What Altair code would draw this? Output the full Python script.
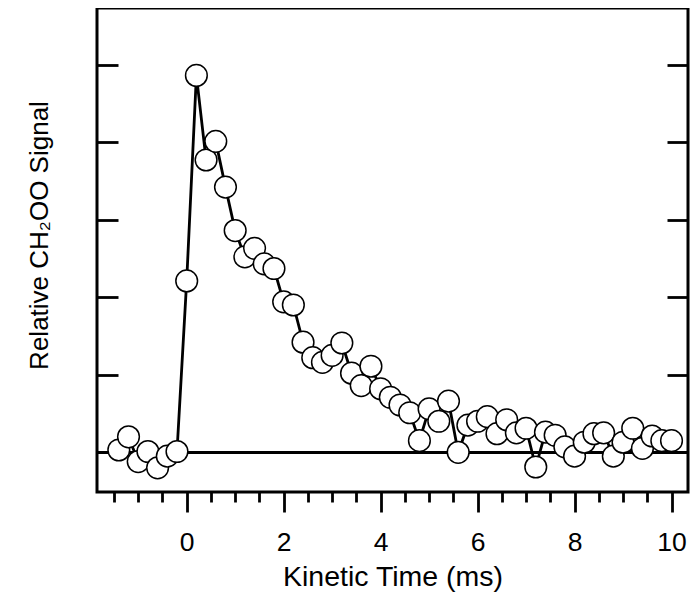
import altair as alt
import pandas as pd

# Data
time_ms = [-1.4, -1.2, -1.0, -0.8, -0.6, -0.4, -0.2, 0.0, 0.2, 0.4,
           0.6, 0.8, 1.0, 1.2, 1.4, 1.6, 1.8, 2.0, 2.2, 2.4,
           2.6, 2.8, 3.0, 3.2, 3.4, 3.6, 3.8, 4.0, 4.2, 4.4,
           4.6, 4.8, 5.0, 5.2, 5.4, 5.6, 5.8, 6.0, 6.2, 6.4,
           6.6, 6.8, 7.0, 7.2, 7.4, 7.6, 7.8, 8.0, 8.2, 8.4,
           8.6, 8.8, 9.0, 9.2, 9.4, 9.6, 9.8, 10.0]
signal = [0.03, 0.20, -0.12, 0.01, -0.20, -0.05, 0.01, 2.21, 4.86, 3.77,
          4.01, 3.42, 2.86, 2.52, 2.63, 2.43, 2.37, 1.94, 1.90, 1.42,
          1.22, 1.16, 1.25, 1.41, 1.02, 0.86, 1.11, 0.82, 0.71, 0.61,
          0.51, 0.15, 0.56, 0.40, 0.66, 0.00, 0.35, 0.40, 0.46, 0.24,
          0.42, 0.25, 0.31, -0.19, 0.26, 0.22, 0.07, -0.05, 0.13, 0.24,
          0.25, -0.05, 0.13, 0.31, 0.05, 0.21, 0.15, 0.15]
x_tick_values = [-1.5, -1.0, -0.5, 0.0, 0.5, 1.0, 1.5, 2.0, 2.5, 3.0, 3.5, 4.0,
                 4.5, 5.0, 5.5, 6.0, 6.5, 7.0, 7.5, 8.0, 8.5, 9.0, 9.5, 10.0]
y_tick_values = [0, 1, 2, 3, 4, 5]
x_domain = [-1.85, 10.34]
y_domain = [-0.512, 5.73]

df = pd.DataFrame({"t": time_ms, "s": signal})

FONT = "Liberation Sans"

x_axis = alt.Axis(
    values=x_tick_values,
    title="Kinetic Time (ms)",
    labelExpr="datum.value % 2 === 0 ? format(datum.value, 'd') : ''",
    tickSize={"condition": {"test": "datum.value % 2 !== 0", "value": 10}, "value": 20},
    tickWidth=2.8, tickColor="black", domain=False, grid=False,
    labelFont=FONT, labelFontSize=26.5, labelColor="black", labelPadding=17,
    labelOverlap=False, labelFlush=False,
    titleFont=FONT, titleFontSize=28.5, titleColor="black", titleFontWeight="normal",
    titlePadding=7,
)
x_enc = alt.X("t:Q", scale=alt.Scale(domain=x_domain, nice=False, zero=False), axis=x_axis)

y_scale = alt.Scale(domain=y_domain, nice=False, zero=False)

y_left = alt.Axis(
    values=y_tick_values, orient="left", offset=-21, tickSize=21, tickWidth=2.8,
    tickColor="black", labels=False, domain=False, grid=False,
    title="Relative CH₂OO Signal", titleFont=FONT, titleFontSize=26,
    titleColor="black", titleFontWeight="normal", titlePadding=43,
    titleY=227,
)
y_right = alt.Axis(
    values=y_tick_values, orient="right", offset=-21, tickSize=21, tickWidth=2.8,
    tickColor="black", labels=False, domain=False, grid=False, title=None,
)

base = alt.Chart(df)

zero_rule = base.mark_rule(color="black", strokeWidth=2.8).encode(
    y=alt.YDatum(0, scale=y_scale, axis=None)
)
line = base.mark_line(color="black", strokeWidth=2.8).encode(
    x=x_enc, y=alt.Y("s:Q", scale=y_scale, axis=y_left)
)
points = base.mark_circle(fill="white", stroke="black", strokeWidth=1.5,
                          size=470, opacity=1).encode(
    x=x_enc, y=alt.Y("s:Q", scale=y_scale, axis=y_right)
)

chart = alt.layer(zero_rule, line, points).resolve_scale(y="independent").properties(
    width=591, height=484,
    autosize=alt.AutoSizeParams(type="none"),
    padding={"left": 89, "top": 0, "right": 4, "bottom": 101},
    background="white",
).configure_view(stroke="black", strokeWidth=3)

chart.save("out.html", embed_options={"renderer": "svg", "actions": False})
